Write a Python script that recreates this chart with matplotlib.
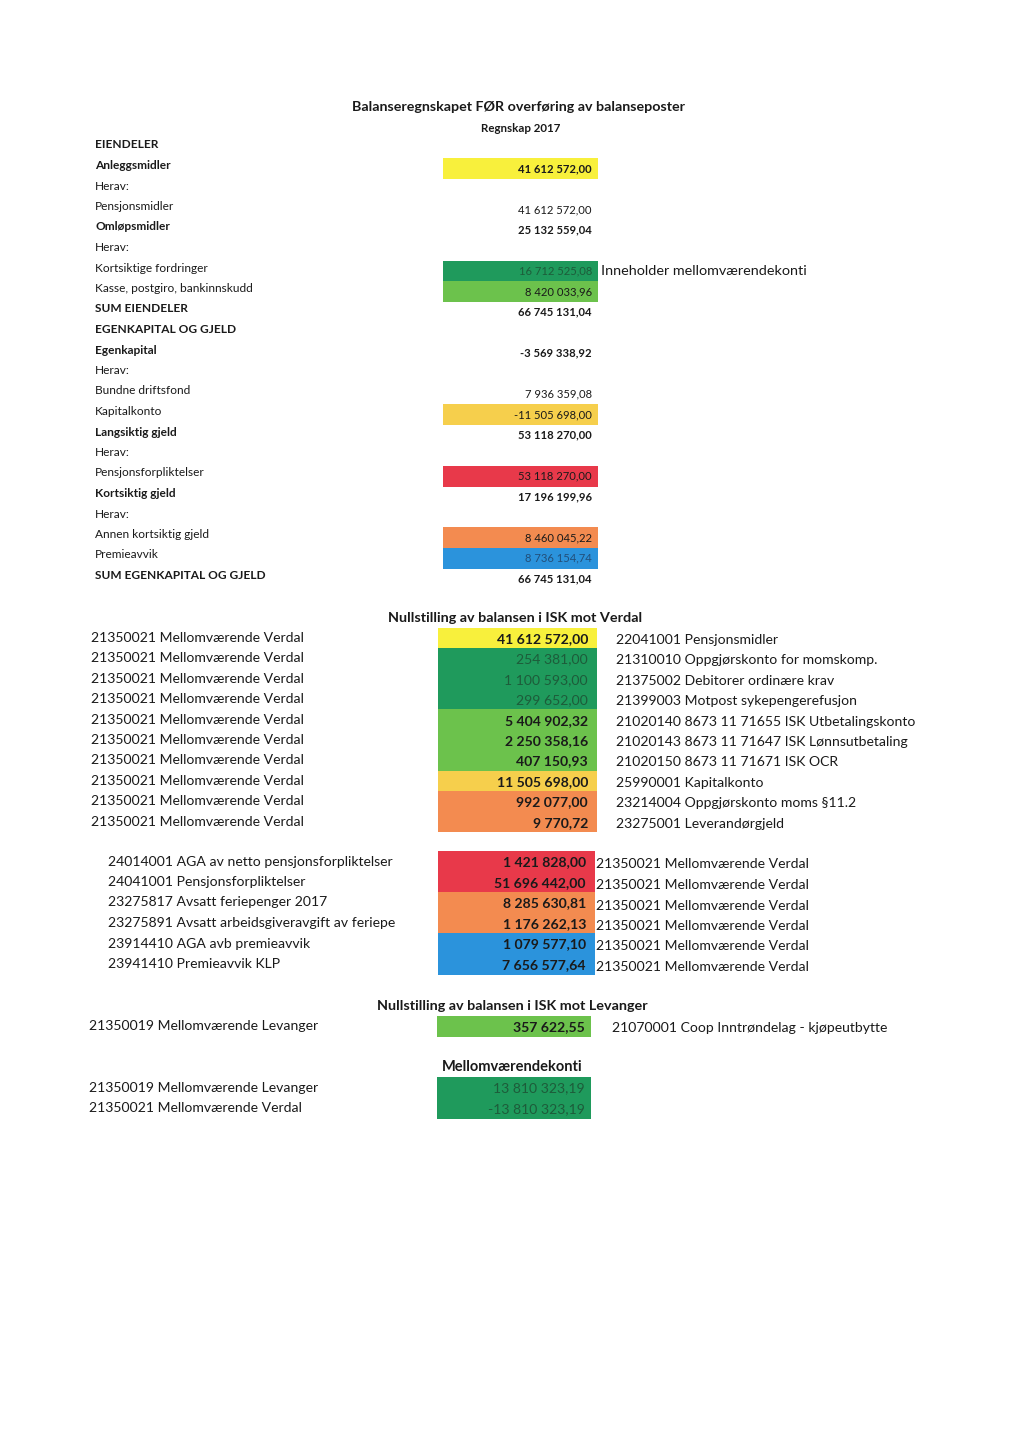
import matplotlib.pyplot as plt
from matplotlib.patches import Rectangle

plt.rcParams['font.family'] = ['Lato', 'DejaVu Sans']

# farger for markeringene
FILL = {
    'yellow': '#f8f03c',
    'dkgreen': '#1f9a5c',
    'green': '#6cc24c',
    'gold': '#f6cf4c',
    'red': '#e8394a',
    'orange': '#f38b50',
    'blue': '#2b93dc',
}
INK = {'dkgreen': '#1d5c3a', 'blue': '#224f7a'}

# data: balanseregnskapet =====================================
top_labels = ['EIENDELER', 'Anleggsmidler', 'Herav:', 'Pensjonsmidler', 'Omløpsmidler', 'Herav:',
              'Kortsiktige fordringer', 'Kasse, postgiro, bankinnskudd', 'SUM EIENDELER',
              'EGENKAPITAL OG GJELD', 'Egenkapital', 'Herav:', 'Bundne driftsfond', 'Kapitalkonto',
              'Langsiktig gjeld', 'Herav:', 'Pensjonsforpliktelser', 'Kortsiktig gjeld', 'Herav:',
              'Annen kortsiktig gjeld', 'Premieavvik', 'SUM EGENKAPITAL OG GJELD']
top_values = ['', '41 612 572,00', '', '41 612 572,00', '25 132 559,04', '',
              '16 712 525,08', '8 420 033,96', '66 745 131,04',
              '', '-3 569 338,92', '', '7 936 359,08', '-11 505 698,00',
              '53 118 270,00', '', '53 118 270,00', '17 196 199,96', '',
              '8 460 045,22', '8 736 154,74', '66 745 131,04']
top_bold = ['EIENDELER', 'Anleggsmidler', 'Omløpsmidler', 'SUM EIENDELER', 'EGENKAPITAL OG GJELD',
            'Egenkapital', 'Langsiktig gjeld', 'Kortsiktig gjeld', 'SUM EGENKAPITAL OG GJELD']
top_fill = {'Anleggsmidler': 'yellow', 'Kortsiktige fordringer': 'dkgreen',
            'Kasse, postgiro, bankinnskudd': 'green', 'Kapitalkonto': 'gold',
            'Pensjonsforpliktelser': 'red', 'Annen kortsiktig gjeld': 'orange',
            'Premieavvik': 'blue'}
top_note = 'Inneholder mellomværendekonti'

# data: nullstilling mot Verdal ================================
verdal_left = ['21350021 Mellomværende Verdal'] * 10
verdal_values = ['41 612 572,00', '254 381,00', '1 100 593,00', '299 652,00', '5 404 902,32',
                 '2 250 358,16', '407 150,93', '11 505 698,00', '992 077,00', '9 770,72']
verdal_right = ['22041001 Pensjonsmidler', '21310010 Oppgjørskonto for momskomp.',
                '21375002 Debitorer ordinære krav', '21399003 Motpost sykepengerefusjon',
                '21020140 8673 11 71655 ISK Utbetalingskonto', '21020143 8673 11 71647 ISK Lønnsutbetaling',
                '21020150 8673 11 71671 ISK OCR', '25990001 Kapitalkonto',
                '23214004 Oppgjørskonto moms §11.2', '23275001 Leverandørgjeld']
verdal_fill = ['yellow', 'dkgreen', 'dkgreen', 'dkgreen', 'green', 'green', 'green',
               'gold', 'orange', 'orange']

gjeld_left = ['24014001 AGA av netto pensjonsforpliktelser', '24041001 Pensjonsforpliktelser',
              '23275817 Avsatt feriepenger 2017', '23275891 Avsatt arbeidsgiveravgift av feriepe',
              '23914410 AGA avb premieavvik', '23941410 Premieavvik KLP']
gjeld_values = ['1 421 828,00', '51 696 442,00', '8 285 630,81', '1 176 262,13',
                '1 079 577,10', '7 656 577,64']
gjeld_right = ['21350021 Mellomværende Verdal'] * 6
gjeld_fill = ['red', 'red', 'orange', 'orange', 'blue', 'blue']

levanger_left = ['21350019 Mellomværende Levanger']
levanger_values = ['357 622,55']
levanger_right = ['21070001 Coop Inntrøndelag - kjøpeutbytte']
levanger_fill = ['green']

mellom_left = ['21350019 Mellomværende Levanger', '21350021 Mellomværende Verdal']
mellom_values = ['13 810 323,19', '-13 810 323,19']
mellom_fill = ['dkgreen', 'dkgreen']


fig = plt.figure(figsize=(10.24, 14.48), dpi=100)
ax = fig.add_axes([0, 0, 1, 1])
ax.set_xlim(0, 1024)
ax.set_ylim(1448, 0)
ax.axis('off')

FS = 10.1


def block(y0, step, x_left, left, values, fills, box_x, box_w, val_x, right=None,
          x_right=None, right_dy=0, size=FS):
    for i, val in enumerate(values):
        yc = y0 + i * step
        key = fills[i]
        ax.add_patch(Rectangle((box_x, yc - step / 2), box_w, step + 0.4,
                               facecolor=FILL[key], edgecolor='none'))
        dark = key == 'dkgreen'
        ax.text(val_x, yc + 1, val, ha='right', va='center', fontsize=size,
                fontweight='normal' if dark else 'bold',
                color=INK['dkgreen'] if dark else '#1a1a1a')
        ax.text(x_left, yc, left[i], ha='left', va='center', fontsize=size, color='#1a1a1a')
        if right is not None:
            ax.text(x_right, yc + right_dy, right[i], ha='left', va='center',
                    fontsize=size, color='#1a1a1a')


# balanseregnskapet ===========================================
ax.text(519, 107, 'Balanseregnskapet FØR overføring av balanseposter', ha='center', va='center',
        fontsize=10.3, fontweight='bold', color='#1a1a1a')
ax.text(521, 128, 'Regnskap 2017', ha='center', va='center', fontsize=8.3,
        fontweight='bold', color='#1a1a1a')

for i, lab in enumerate(top_labels):
    y = 145 + i * 20.5
    b = 'bold' if lab in top_bold else 'normal'
    ax.text(95, y, lab, ha='left', va='center', fontsize=8.6, fontweight=b, color='#1a1a1a')
    val = top_values[i]
    if not val:
        continue
    key = top_fill.get(lab)
    if key:
        ax.add_patch(Rectangle((443, y + 3 - 10.5), 155, 21, facecolor=FILL[key], edgecolor='none'))
    vb = 'bold' if (lab in top_bold or key == 'yellow') else 'normal'
    ax.text(592, y + 3, val, ha='right', va='center', fontsize=8.1, fontweight=vb,
            color=INK.get(key, '#1a1a1a'))
    if lab == 'Kortsiktige fordringer':
        ax.text(601, y + 3, top_note, ha='left', va='center', fontsize=10.4, color='#1a1a1a')

# nullstilling mot Verdal ======================================
ax.text(515, 618, 'Nullstilling av balansen i ISK mot Verdal', ha='center', va='center',
        fontsize=10.4, fontweight='bold', color='#1a1a1a')
block(638, 20.4, 91, verdal_left, verdal_values, verdal_fill, 438, 159, 588,
      verdal_right, 616, 2)
block(861.5, 20.5, 108, gjeld_left, gjeld_values, gjeld_fill, 438, 157, 586,
      gjeld_right, 596, 3)

# nullstilling mot Levanger ====================================
ax.text(512, 1006, 'Nullstilling av balansen i ISK mot Levanger', ha='center', va='center',
        fontsize=10.4, fontweight='bold', color='#1a1a1a')
block(1026, 20.5, 89, levanger_left, levanger_values, levanger_fill, 437, 154, 585,
      levanger_right, 612, 2)

# mellomværendekonti ===========================================
ax.text(512, 1067, 'Mellomværendekonti', ha='center', va='center',
        fontsize=10.5, fontweight='bold', color='#1a1a1a')
block(1087.5, 20.5, 89, mellom_left, mellom_values, mellom_fill, 437, 154, 585)

fig.savefig('out.png', dpi=100)
